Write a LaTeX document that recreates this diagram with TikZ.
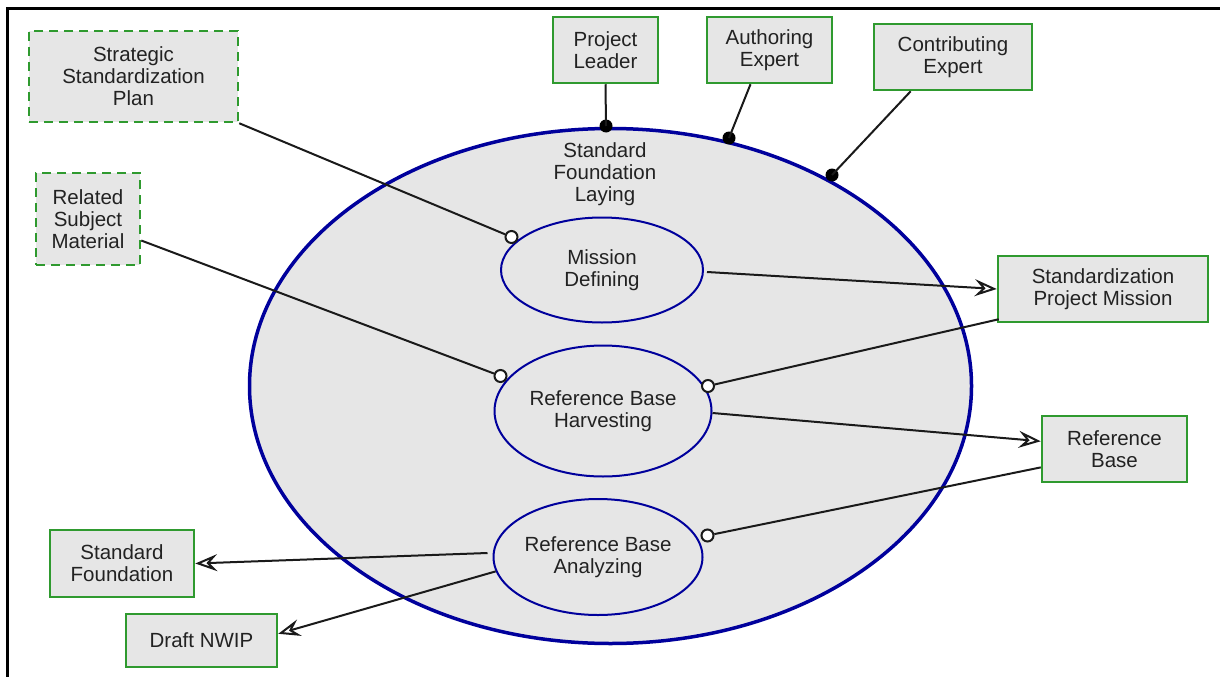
\documentclass[tikz,border=0pt]{standalone}
\usepackage{fontspec}
\setmainfont{Liberation Sans}
\usetikzlibrary{arrows.meta,shapes.geometric}
\definecolor{boxfill}{HTML}{E6E6E6}
\definecolor{boxgreen}{HTML}{2F9A2F}
\definecolor{ellblue}{HTML}{00009C}
\definecolor{linecol}{HTML}{1A1A1A}
\definecolor{txt}{HTML}{222222}
\tikzset{
  actor/.style={rectangle, draw=boxgreen, line width=2.5pt, fill=boxfill, inner sep=0pt, align=center, text=txt},
  dashbox/.style={actor, dash pattern=on 9pt off 6pt},
  bigell/.style={ellipse, draw=ellblue, line width=3.5pt, fill=boxfill, inner sep=0pt},
  procell/.style={ellipse, draw=ellblue, line width=2pt, fill=boxfill, inner sep=0pt, align=center, text=txt},
  port/.style={circle, draw=linecol, fill=white, line width=2pt, minimum size=12pt, inner sep=0pt},
  dot/.style={circle, fill=black, minimum size=13pt, inner sep=0pt},
  conn/.style={draw=linecol, line width=2pt},
  arr/.style={conn, -{Stealth[open, length=22pt, width=17pt, inset=8pt, line width=2pt]}},
  frameline/.style={draw=black, line width=2.5pt}
}
\begin{document}
\begin{tikzpicture}[x=1pt,y=-1pt, font=\fontsize{20.5}{22}\selectfont]
\useasboundingbox (0,0) rectangle (1220,677);
\fill[white] (0,0) rectangle (1220,677);
% frame
\coordinate (ftr) at (1220,8.5);
\coordinate (ftl) at (7.5,8.5);
\coordinate (fbl) at (7.5,677);
\draw[frameline] (ftr) -- (ftl) -- (fbl);

% big process
\node[bigell, minimum width=722pt, minimum height=515pt] (big) at (610.5,386) {};
\node[text=txt, align=center] (bigl) at (605,174) {Standard\\Foundation\\Laying};

% sub processes
\node[procell, minimum width=202pt, minimum height=105pt] (md) at (602,270) {Mission\\Defining};
\node[procell, minimum width=217pt, minimum height=131pt] (hv) at (603,411) {Reference Base\\Harvesting};
\node[procell, minimum width=209pt, minimum height=116pt] (an) at (598,557) {Reference Base\\Analyzing};

% actors / artefacts
\node[dashbox, minimum width=209pt, minimum height=91pt] (ssp) at (133.5,76.5) {Strategic\\Standardization\\Plan};
\node[dashbox, minimum width=104pt, minimum height=92pt] (rsm) at (88,219) {Related\\Subject\\Material};
\node[actor, minimum width=105pt, minimum height=66pt] (pl) at (605.5,50) {Project\\Leader};
\node[actor, minimum width=125pt, minimum height=66pt] (ae) at (769.5,50) {Authoring\\Expert};
\node[actor, minimum width=158pt, minimum height=66pt] (ce) at (953,57) {Contributing\\Expert};
\node[actor, minimum width=210pt, minimum height=66pt] (spm) at (1103,289) {Standardization\\Project Mission};
\node[actor, minimum width=145pt, minimum height=66pt] (rb) at (1114.5,449) {Reference\\Base};
\node[actor, minimum width=144pt, minimum height=67pt] (sf) at (122,563.5) {Standard\\Foundation};
\node[actor, minimum width=151pt, minimum height=53pt] (dn) at (201.5,640.5) {Draft NWIP};

% connectors
\node[dot] (d1) at (606,126) {};
\node[dot] (d2) at (729,138) {};
\node[dot] (d3) at (832,175) {};
\draw[conn] (pl.south) -- (d1.center);
\draw[conn] (ae.241) -- (d2.center);
\draw[conn] (ce.219.5) -- (d3.center);

\node[port] (p1) at (511.5,237) {};
\node[port] (p2) at (500.5,376) {};
\node[port] (p3) at (708,386) {};
\node[port] (p4) at (707.5,535.5) {};

\draw[conn] (ssp.south east) -- (p1);
\draw[conn] (rsm.-22) -- (p2);
\draw[conn] (spm.south west) ++(2,-4) -- (p3);
\draw[conn] (rb.194) -- (p4);

\draw[arr] (md.east) ++(3,2) -- (spm.west);
\draw[arr] (hv.east) ++(0,2) -- (rb.174);
\draw[arr] (an.west) ++(-5,-4) -- (sf.east);
\draw[arr] (an.188) -- (dn.5);
\end{tikzpicture}
\end{document}
